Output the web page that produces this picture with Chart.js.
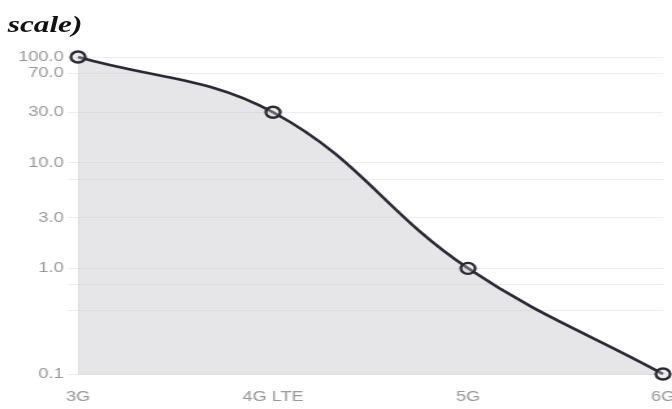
<!DOCTYPE html>
<html>
<head>
<meta charset="utf-8">
<script src="https://cdn.jsdelivr.net/npm/chart.js@4.4.1/dist/chart.umd.min.js"></script>
<style>
  html, body { margin: 0; padding: 0; background: #fff; overflow: hidden; width: 672px; height: 409px; }
  #stage { position: absolute; left: 0; top: 0; width: 535px; height: 409px; transform: scaleX(1.3); transform-origin: 0 0; }
  #plot { position: absolute; left: 0; top: 0; width: 535px; height: 409px; }
  #heading { position: absolute; left: 6px; top: 11px; line-height: 24px; font: italic bold 24px "Liberation Serif", "Times New Roman", serif; color: #111; white-space: nowrap; }
</style>
</head>
<body>
<div id="stage">
  <div id="plot"><canvas id="chart" width="535" height="409"></canvas></div>
  <div id="heading">scale)</div>
</div>
<script>
// Network generations and their relative values (log axis)
const categories = ['3G', '4G LTE', '5G', '6G'];
const values = [100, 30, 1, 0.1];

// Log-axis grid lines and the ones that carry a label
const yGridValues = [0.1, 0.4, 0.7, 1, 3, 7, 10, 30, 70, 100];
const yLabelValues = [0.1, 1, 3, 10, 30, 70, 100];

const tickFont = { family: '"Liberation Sans", Arial, Helvetica, sans-serif', size: 14 };
const tickColor = '#999999';
const faint = 'rgba(0,0,0,0.07)';
const ink = '#2a2a36';

new Chart(document.getElementById('chart'), {
  type: 'line',
  data: {
    labels: categories,
    datasets: [{
      data: values,
      clip: false,
      borderColor: ink,
      borderWidth: 2.6,
      backgroundColor: 'rgba(205,205,210,0.5)',
      fill: 'start',
      tension: 0.4,
      pointRadius: 5.5,
      pointBorderWidth: 2.3,
      pointBorderColor: ink,
      pointBackgroundColor: 'rgba(205,205,210,0.35)'
    }]
  },
  options: {
    responsive: false,
    animation: false,
    devicePixelRatio: 1,
    layout: { padding: { left: 11, top: 57, right: 25, bottom: -3.8 } },
    plugins: { legend: { display: false }, tooltip: { enabled: false } },
    scales: {
      x: {
        grid: { display: false },
        border: { color: faint },
        ticks: { padding: 7, color: tickColor, font: tickFont, maxRotation: 0 }
      },
      y: {
        type: 'logarithmic',
        min: 0.1,
        max: 100,
        grid: { color: faint },
        border: { color: faint },
        afterBuildTicks: (scale) => { scale.ticks = yGridValues.map(v => ({ value: v })); },
        ticks: {
          autoSkip: false,
          color: tickColor,
          font: tickFont,
          callback: (v) => yLabelValues.includes(v) ? v.toFixed(1) : ''
        }
      }
    }
  }
});
</script>
</body>
</html>
